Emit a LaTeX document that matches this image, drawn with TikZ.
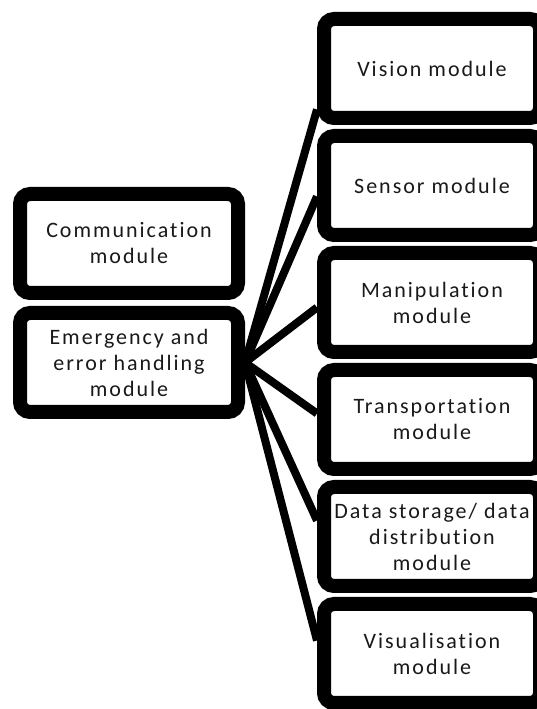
\documentclass[tikz,border=0pt]{standalone}
\usepackage{fontspec}
\setmainfont{Carlito}[LetterSpace=9,Ligatures={NoCommon}]
\usetikzlibrary{calc,positioning,backgrounds,shadows.blur}

\tikzset{
  modbox/.style={draw=black,line width=14pt,rounded corners=10pt,fill=white,
    minimum height=99pt,inner sep=2pt,align=center,text=black!90,
    font=\fontsize{22}{26}\selectfont,
    blur shadow={shadow xshift=2pt,shadow yshift=-3pt,shadow blur steps=6,shadow opacity=25}},
  leftbox/.style={modbox,minimum width=218pt},
  rightbox/.style={modbox,minimum width=216pt},
  link/.style={line width=8pt}
}

\begin{document}
\begin{tikzpicture}[x=1pt,y=1pt]
    \clip (0,0) rectangle (537,709);

    % Left column
    \node[leftbox] (comm) at (129,465.5) {Communication\\module};
    \node[leftbox] (emerg) at (129,346.5) {Emergency and\\error handling\\module};

    % Right column
    \node[rightbox] (vision) at (432,640.5) {Vision module};
    \node[rightbox] (sensor) at (432,523.5) {Sensor module};
    \node[rightbox] (manip) at (432,406.5) {Manipulation\\module};
    \node[rightbox] (transp) at (432,289.5) {Transportation\\module};
    \node[rightbox] (datastore) at (432,172.5) {Data storage/ data\\distribution\\module};
    \node[rightbox] (visual) at (432,55.5) {Visualisation\\module};

    % Links
    \begin{pgfonlayer}{background}
    \draw[link] (emerg.east) -- ($(vision.west)+(0,-41)$);
    \draw[link] (emerg.east) -- ($(sensor.west)+(0,-11)$);
    \draw[link] (emerg.east) -- ($(manip.west)+(0,-5)$);
    \draw[link] (emerg.east) -- ($(transp.west)+(0,6)$);
    \draw[link] (emerg.east) -- ($(datastore.west)+(0,16)$);
    \draw[link] (emerg.east) -- ($(visual.west)+(0,13)$);
    \end{pgfonlayer}
  \end{tikzpicture}
\end{document}
